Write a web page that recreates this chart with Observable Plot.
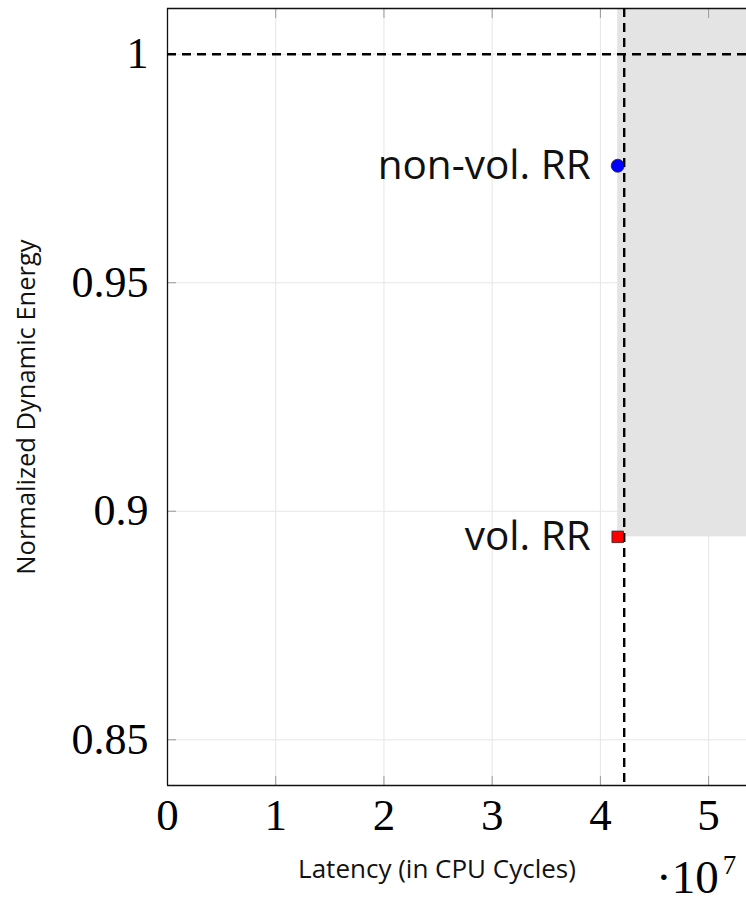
<!DOCTYPE html>
<html>
<head>
<meta charset="utf-8">
<script src="https://cdn.jsdelivr.net/npm/d3@7"></script>
<script src="https://cdn.jsdelivr.net/npm/@observablehq/plot@0.6"></script>
<style>
  html, body { margin: 0; padding: 0; background: #fff; }
  #wrap { position: relative; width: 746px; height: 902px; overflow: hidden; }
</style>
</head>
<body>
<div id="wrap"></div>
<script>
// Data
const xTicks = [0, 1e7, 2e7, 3e7, 4e7, 5e7];
const yTicks = [0.85, 0.9, 0.95, 1];
const xDomain = [0, 5.35e7];
const yDomain = [0.84, 1.01];
const pointNames = ["non-vol. RR", "vol. RR"];
const pointLatency = [4.16e7, 4.16e7];
const pointEnergy = [0.9756, 0.8944];
const pointSymbol = ["circle", "square"];
const pointColor = ["#0000ff", "#ff0000"];
const baselineEnergy = [1];
const baselineLatency = [4.22e7];
const xLabel = "Latency (in CPU Cycles)";
const yLabel = "Normalized Dynamic Energy";
const xExponent = ["·10", "7"];

const points = pointNames.map((n, i) => ({
  name: n, x: pointLatency[i], y: pointEnergy[i], symbol: pointSymbol[i], color: pointColor[i]
}));
// dominated region: right of vol. RR latency, above its energy
const region = [{x1: pointLatency[1], x2: xDomain[1], y1: pointEnergy[1], y2: yDomain[1]}];

const serif = "'Liberation Serif', serif";
const sans = "'Open Sans', sans-serif";

const chart = Plot.plot({
  width: 746,
  height: 902,
  marginLeft: 167,
  marginRight: 0,
  marginTop: 8,
  marginBottom: 117,
  style: {background: "white", color: "black"},
  x: {domain: xDomain},
  y: {domain: yDomain},
  marks: [
    Plot.gridX(xTicks, {stroke: "#e6e6e6", strokeOpacity: 1}),
    Plot.gridY(yTicks, {stroke: "#e6e6e6", strokeOpacity: 1}),
    Plot.rect(region, {x1: "x1", x2: "x2", y1: "y1", y2: "y2", fill: "#e4e4e4"}),
    // inward tick marks
    Plot.axisX(xTicks, {anchor: "bottom", tickSize: 9, dy: -9, tickFormat: () => "", stroke: "#999"}),
    Plot.axisX(xTicks, {anchor: "top", tickSize: 9, dy: 9, tickFormat: () => "", stroke: "#999"}),
    Plot.axisY(yTicks, {anchor: "left", tickSize: 9, dx: 9, tickFormat: () => "", stroke: "#999"}),
    // tick labels
    Plot.axisX(xTicks, {anchor: "bottom", tickSize: 0, tickPadding: 13, tickFormat: d => String(d / 1e7), fontSize: 45, fontFamily: serif, label: null}),
    Plot.axisY(yTicks, {anchor: "left", tickSize: 0, tickPadding: 19, tickFormat: d => String(+d.toFixed(2)), fontSize: 44, fontFamily: serif, label: null}),
    // frame (left, top, bottom)
    Plot.ruleX([xDomain[0]], {stroke: "#111", strokeWidth: 1.3}),
    Plot.ruleY([yDomain[0], yDomain[1]], {stroke: "#111", strokeWidth: 1.3}),
    // points
    Plot.dot(points, {x: "x", y: "y", symbol: "symbol", fill: "color", stroke: "#222", strokeWidth: 0.8, r: 6.5}),
    Plot.text(points, {x: "x", y: "y", text: "name", textAnchor: "end", dx: -27, fontSize: 40.5, fontFamily: sans, fill: "#111"}),
    // baselines
    Plot.ruleY(baselineEnergy, {stroke: "#000", strokeWidth: 2.4, strokeDasharray: "9,6"}),
    Plot.ruleX(baselineLatency, {stroke: "#000", strokeWidth: 2.4, strokeDasharray: "9,6"}),
    // axis titles
    Plot.text([xLabel], {frameAnchor: "bottom", textAnchor: "middle", dx: -20, dy: 92, fontSize: 26, fontFamily: sans, fill: "#111"}),
    Plot.text([yLabel], {frameAnchor: "left", textAnchor: "middle", dx: -141, dy: 10, rotate: -90, fontSize: 25.5, fontFamily: sans, fill: "#111"})
  ]
});

const wrap = document.getElementById("wrap");
wrap.appendChild(chart);

// x-axis scale exponent (·10^7) below the axis, right side
const svg = d3.select(chart);
const expText = svg.append("text")
  .attr("x", 656)
  .attr("y", 893)
  .attr("font-family", serif)
  .attr("text-anchor", "start")
  .attr("fill", "black");
expText.append("tspan").attr("font-size", 47).text(xExponent[0]);
expText.append("tspan").attr("font-size", 27).attr("dx", 4).attr("dy", -19).text(xExponent[1]);
</script>
</body>
</html>
